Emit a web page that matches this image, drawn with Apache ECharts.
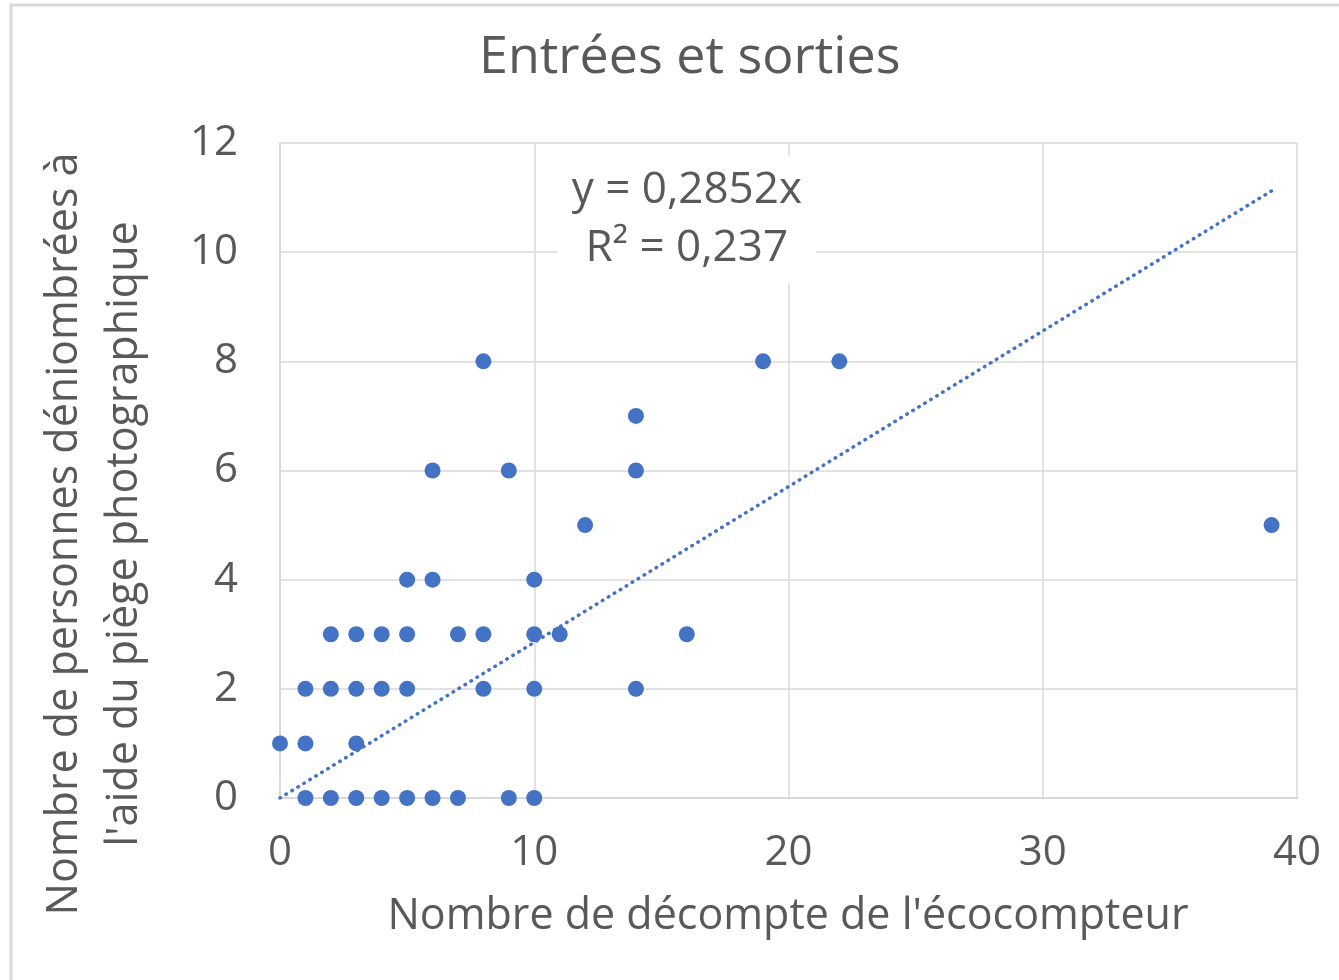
<!DOCTYPE html>
<html>
<head>
<meta charset="utf-8">
<script src="https://cdn.jsdelivr.net/npm/echarts@6/dist/echarts.min.js"></script>
<style>
  html, body { margin: 0; padding: 0; background: #fff; }
  #chart { width: 1339px; height: 980px; }
</style>
</head>
<body>
<div id="chart"></div>
<script>
// Counts from the eco-counter (x) against people counted on the camera trap (y)
const ecoCounts = [1, 2, 3, 4, 5, 6, 7, 9, 10,
                   0, 1, 3,
                   1, 2, 3, 4, 5, 8, 10, 14,
                   2, 3, 4, 5, 7, 8, 10, 11, 16,
                   5, 6, 10,
                   12, 39,
                   6, 9, 14,
                   14,
                   8, 19, 22];
const trapCounts = [0, 0, 0, 0, 0, 0, 0, 0, 0,
                    1, 1, 1,
                    2, 2, 2, 2, 2, 2, 2, 2,
                    3, 3, 3, 3, 3, 3, 3, 3, 3,
                    4, 4, 4,
                    5, 5,
                    6, 6, 6,
                    7,
                    8, 8, 8];

// Linear trend through the origin
const trendSlope = 0.2852;
const trendR2 = 0.237;
const trendRange = [0, 39];

const xTicks = [0, 10, 20, 30, 40];
const yTicks = [0, 2, 4, 6, 8, 10, 12];

const fmt = v => String(v).replace('.', ',');
const points = ecoCounts.map((x, i) => [x, trapCounts[i]]);
const trendPoints = trendRange.map(x => [x, trendSlope * x]);

const FONT = '"Open Sans", "Noto Sans", sans-serif';
const TXT = '#595959';
const GRID = '#d9d9d9';

const chart = echarts.init(document.getElementById('chart'), null, { renderer: 'canvas' });
chart.setOption({
  backgroundColor: '#fff',
  animation: false,
  title: {
    text: 'Entrées et sorties',
    left: 474,
    top: 27,
    textStyle: { color: TXT, fontFamily: FONT, fontSize: 52, fontWeight: 'normal' }
  },
  grid: { left: 280, right: 42, top: 143, bottom: 182 },
  xAxis: {
    type: 'value',
    min: xTicks[0], max: xTicks[xTicks.length - 1], interval: 10,
    axisLine: { show: true, lineStyle: { color: GRID, width: 2 } },
    axisTick: { show: false },
    splitLine: { show: true, lineStyle: { color: GRID, width: 1.5 } },
    axisLabel: { color: TXT, fontFamily: FONT, fontSize: 42, margin: 34 }
  },
  yAxis: {
    type: 'value',
    min: yTicks[0], max: yTicks[yTicks.length - 1], interval: 2,
    axisLine: { show: true, lineStyle: { color: GRID, width: 2 } },
    axisTick: { show: false },
    splitLine: { show: true, lineStyle: { color: GRID, width: 1.5 } },
    axisLabel: { color: TXT, fontFamily: FONT, fontSize: 42, margin: 42, padding: [0, 0, 22, 0] }
  },
  series: [
    {
      type: 'line',
      data: trendPoints,
      showSymbol: false,
      symbol: 'none',
      z: 3,
      lineStyle: { color: '#4472C4', width: 3.5, type: [0.5, 6.5], cap: 'round' },
      markPoint: {
        symbol: 'circle',
        symbolSize: 0,
        data: [{ coord: [16, 10.6] }],
        label: {
          show: true,
          formatter: 'y = ' + fmt(trendSlope) + 'x\nR² = ' + fmt(trendR2),
          color: TXT, fontFamily: FONT, fontSize: 44, lineHeight: 58,
          align: 'center', verticalAlign: 'middle',
          backgroundColor: '#fff',
          padding: [6, 14, 6, 14],
          position: 'inside'
        }
      }
    },
    {
      type: 'scatter',
      data: points,
      symbol: 'circle',
      symbolSize: 16,
      z: 4,
      itemStyle: { color: '#4472C4', opacity: 1 }
    }
  ],
  graphic: [
    {
      type: 'rect',
      shape: { x: 11, y: 5, width: 1400, height: 1100 },
      style: { fill: 'none', stroke: '#d9d9d9', lineWidth: 3 },
      silent: true,
      z: -10
    },
    {
      type: 'text',
      x: 95, y: 534,
      rotation: Math.PI / 2,
      style: {
        text: 'Nombre de personnes déniombrées à\nl\'aide du piège photographique',
        fill: TXT,
        font: '43px ' + FONT,
        lineHeight: 60,
        textAlign: 'center',
        textVerticalAlign: 'middle'
      }
    },
    {
      type: 'text',
      x: 788, y: 917,
      style: {
        text: 'Nombre de décompte de l\'écocompteur',
        fill: TXT,
        font: '43px ' + FONT,
        textAlign: 'center',
        textVerticalAlign: 'middle'
      }
    }
  ]
});
</script>
</body>
</html>
